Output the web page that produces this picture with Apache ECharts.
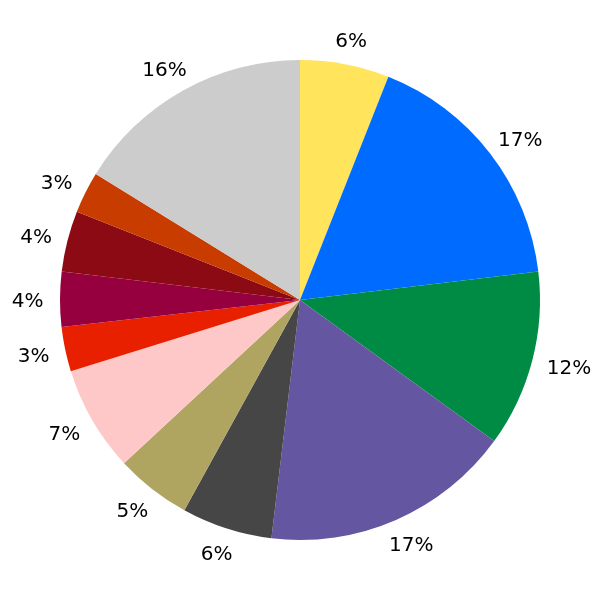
<!DOCTYPE html>
<html>
<head>
<meta charset="utf-8">
<script src="https://cdn.jsdelivr.net/npm/echarts@6/dist/echarts.min.js"></script>
<style>html,body{margin:0;padding:0;background:#fff}#c{width:600px;height:600px}</style>
</head>
<body>
<div id="c"></div>
<script>
const values = [6.0, 17.1, 11.9, 16.9, 6.1, 5.1, 7.1, 3.0, 3.7, 4.1, 2.8, 16.2];
const colors = ['#FFE45C', '#006CFF', '#008B45', '#6456A0', '#464646', '#B0A560',
                '#FFC8C8', '#E82000', '#96003F', '#8C0A14', '#C83C00', '#CCCCCC'];
const names = values.map((v, i) => 'S' + (i + 1));

const CX = 300, CY = 300, R = 240, LABEL_R = 258;
const FONT = 20;

const chart = echarts.init(document.getElementById('c'));
const data = values.map((v, i) => ({ name: names[i], value: v, itemStyle: { color: colors[i] } }));
chart.setOption({
  animation: false,
  series: [
    {
      type: 'pie',
      center: [CX, CY],
      radius: [0, R],
      startAngle: 90,
      clockwise: true,
      data: data,
      itemStyle: { borderWidth: 0 },
      label: {
        show: true,
        position: 'inside',
        formatter: p => Math.round(p.percent) + '%',
        color: '#000',
        fontFamily: 'DejaVu Sans',
        fontSize: FONT
      },
      labelLine: { show: false },
      labelLayout: function (p) {
        const lr = p.labelRect;
        const mx = lr.x + lr.width / 2 - CX;
        const my = lr.y + lr.height / 2 - CY;
        const n = Math.sqrt(mx * mx + my * my) || 1;
        const ux = mx / n, uy = my / n;
        const hw = lr.width / 2 * 0.9, hh = FONT * 0.35;
        return {
          x: CX + ux * (LABEL_R + hw),
          y: CY + uy * (LABEL_R + hh) + 2.5,
          align: 'center',
          verticalAlign: 'middle'
        };
      },
      emphasis: { disabled: true },
      silent: true
    }
  ]
});
</script>
</body>
</html>
